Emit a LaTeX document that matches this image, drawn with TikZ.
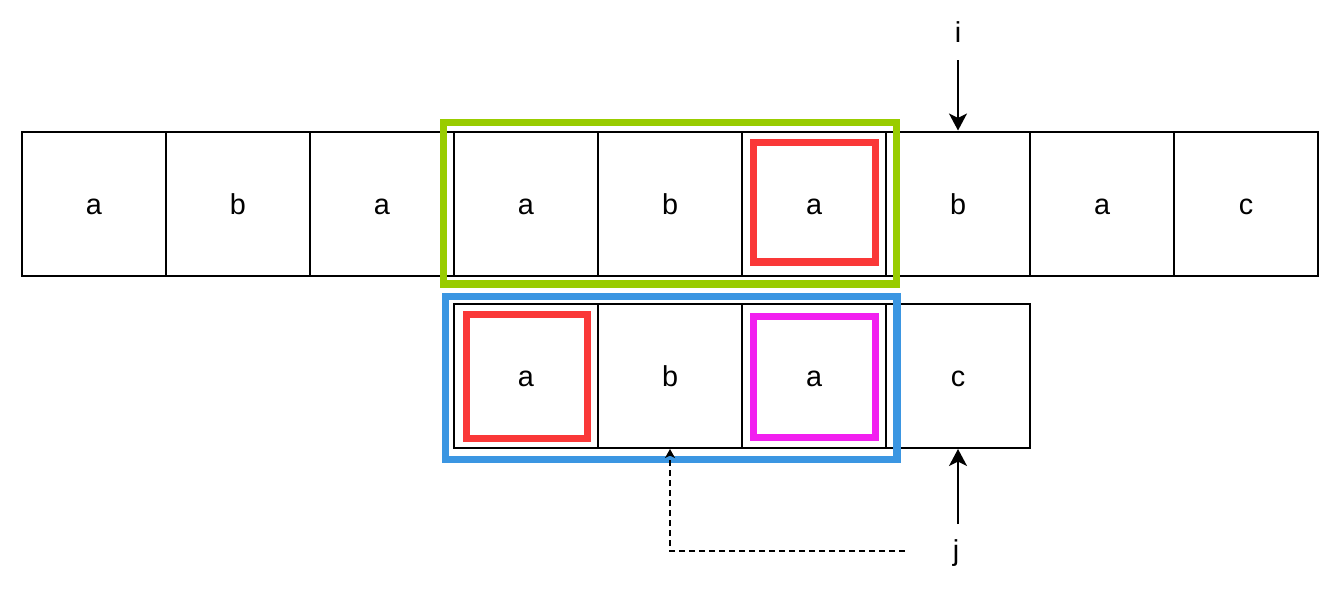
\documentclass[tikz,border=0pt]{standalone}
\usepackage{fontspec}
\setmainfont{Liberation Sans}
\usetikzlibrary{arrows.meta}
\definecolor{cgreen}{HTML}{99CC00}
\definecolor{cred}{HTML}{FA3838}
\definecolor{cblue}{HTML}{3B96E2}
\definecolor{cmag}{HTML}{F21FF0}
\begin{document}
\begin{tikzpicture}[x=1pt,y=-1pt,
  cell/.style={draw=black,line width=2pt,minimum size=144pt,inner sep=0pt,
    text height=21pt,text depth=0pt,font=\fontsize{28.8}{34}\selectfont},
  lbl/.style={inner sep=0pt,font=\fontsize{28.8}{34}\selectfont},
  hl/.style={line width=7.2pt},
  arr/.style={line width=2pt,-{Stealth[length=17pt,width=18pt,inset=4.5pt]}},
  darr/.style={line width=2pt,dash pattern=on 6pt off 4pt,-{Stealth[length=9pt,width=10pt,inset=2.5pt]}}]
\useasboundingbox[fill=white] (0,0) rectangle (1343,592);
% top row
\foreach \k/\t in {1/a,2/b,3/a,4/a,5/b,6/a,7/b,8/a,9/c}{
  \node[cell] (t\k) at ({94+144*(\k-1)},203.5) {\t};
}
% bottom row
\foreach \k/\t in {1/a,2/b,3/a,4/c}{
  \node[cell] (b\k) at ({526+144*(\k-1)},376) {\t};
}
% highlight boxes
\draw[hl,cgreen] (443.5,122.7) rectangle (896.5,284);
\draw[hl,cred] (753.7,142.7) rectangle (875.3,262);
\draw[hl,cblue] (445.7,296.3) rectangle (897,459.3);
\draw[hl,cred] (466.7,314.7) rectangle (587.3,438.7);
\draw[hl,cmag] (753.7,316.7) rectangle (875.3,437.3);
% labels and arrows
\node[lbl] (i) at (958,32.5) {i};
\coordinate (ia) at (958,60);
\draw[arr] (ia) -- (t7.north);
\node[lbl] (j) at (956,553) {j};
\coordinate (ja) at (958,524);
\draw[arr] (ja) -- (b4.south);
\coordinate (da) at (905,551);
\draw[darr] (da) -| (b2.south);
\end{tikzpicture}
\end{document}
